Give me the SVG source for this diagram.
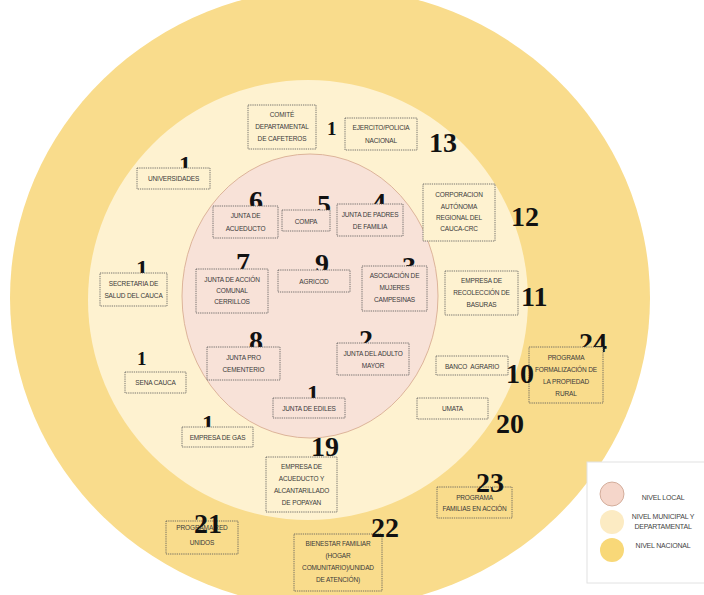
<svg xmlns="http://www.w3.org/2000/svg" width="704" height="595" viewBox="0 0 704 595">
<style>
.box{stroke:#555;stroke-width:0.8;stroke-dasharray:1.3 0.9}
.pk{fill:#F8E2D8}.cr{fill:#FEF2D0}.yl{fill:#F9DC8C}
.lbl{font-family:"Liberation Sans",Arial,sans-serif;font-size:6.5px;fill:#3a3a3a;text-anchor:middle;letter-spacing:-0.15px}
.num{font-family:"Liberation Serif","Times New Roman",serif;font-weight:bold;font-size:28px;fill:#111}
.leg{font-family:"Liberation Sans",Arial,sans-serif;font-size:7px;fill:#444;text-anchor:middle;letter-spacing:-0.2px}
</style>
<rect width="704" height="595" fill="#fff"/>
<g id="levels">
<ellipse cx="330" cy="298" rx="320" ry="310" fill="#F9DC8C"/>
<ellipse cx="308" cy="300" rx="220" ry="220" fill="#FEF2D0"/>
<ellipse cx="310" cy="296" rx="128" ry="142" fill="#F8E2D8" stroke="#DDB49A" stroke-width="1"/>
</g>
<g id="connectors"/>
<g id="n-comite">
<rect class="box cr" x="248" y="105" width="68" height="44"/>
<text class="lbl" x="282" y="117.3">COMITÉ</text>
<text class="lbl" x="282" y="129.3">DEPARTAMENTAL</text>
<text class="lbl" x="282" y="141.3">DE CAFETEROS</text>
<text class="num" x="327" y="135" style="font-size:19px">1</text>
</g>
<g id="n-ejercito">
<rect class="box cr" x="345" y="118" width="72" height="32"/>
<text class="lbl" x="381" y="130.3">EJERCITO/POLICIA</text>
<text class="lbl" x="381" y="143.3">NACIONAL</text>
<text class="num" x="429" y="152">13</text>
</g>
<g id="n-universidades">
<text class="num" x="179" y="172" style="font-size:24px">1</text>
<rect class="box cr" x="137" y="168" width="73" height="21"/>
<text class="lbl" x="173.5" y="181">UNIVERSIDADES</text>
</g>
<g id="n-crc">
<rect class="box cr" x="423" y="184" width="72" height="57"/>
<text class="lbl" x="459" y="197.3">CORPORACION</text>
<text class="lbl" x="459" y="209.3">AUTÓNOMA</text>
<text class="lbl" x="459" y="220.3">REGIONAL DEL</text>
<text class="lbl" x="459" y="231.3">CAUCA-CRC</text>
<text class="num" x="511" y="226">12</text>
</g>
<g id="n-acueducto">
<text class="num" x="249" y="210">6</text>
<rect class="box pk" x="213" y="206" width="65" height="32"/>
<text class="lbl" x="245.5" y="217.5">JUNTA DE</text>
<text class="lbl" x="245.5" y="230.5">ACUEDUCTO</text>
</g>
<g id="n-compa">
<text class="num" x="317" y="214">5</text>
<rect class="box pk" x="282" y="210" width="48" height="21"/>
<text class="lbl" x="306" y="223.5">COMPA</text>
</g>
<g id="n-padres">
<text class="num" x="372" y="212">4</text>
<rect class="box pk" x="337" y="204" width="66" height="32"/>
<text class="lbl" x="370" y="216.5">JUNTA DE PADRES</text>
<text class="lbl" x="370" y="228.5">DE FAMILIA</text>
</g>
<g id="n-accion">
<text class="num" x="236" y="272">7</text>
<rect class="box pk" x="196" y="269" width="72" height="44"/>
<text class="lbl" x="232" y="281.5">JUNTA DE ACCIÓN</text>
<text class="lbl" x="232" y="292.5">COMUNAL</text>
<text class="lbl" x="232" y="303.5">CERRILLOS</text>
</g>
<g id="n-agricod">
<text class="num" x="315" y="273">9</text>
<rect class="box pk" x="278" y="270" width="72" height="22"/>
<text class="lbl" x="314" y="283.5">AGRICOD</text>
</g>
<g id="n-mujeres">
<text class="num" x="402" y="276">3</text>
<rect class="box pk" x="362" y="266" width="65" height="45"/>
<text class="lbl" x="394.5" y="277.5">ASOCIACIÓN DE</text>
<text class="lbl" x="394.5" y="289.5">MUJERES</text>
<text class="lbl" x="394.5" y="301.5">CAMPESINAS</text>
</g>
<g id="n-secretaria">
<text class="num" x="136" y="276" style="font-size:24px">1</text>
<rect class="box cr" x="100" y="273" width="67" height="33"/>
<text class="lbl" x="133.5" y="285.5">SECRETARIA DE</text>
<text class="lbl" x="133.5" y="297.5">SALUD DEL CAUCA</text>
</g>
<g id="n-basuras">
<rect class="box cr" x="445" y="271" width="73" height="44"/>
<text class="lbl" x="481.5" y="282.5">EMPRESA DE</text>
<text class="lbl" x="481.5" y="294.5">RECOLECCIÓN DE</text>
<text class="lbl" x="481.5" y="306.5">BASURAS</text>
<text class="num" x="521" y="306">11</text>
</g>
<g id="n-cementerio">
<text class="num" x="249" y="350">8</text>
<rect class="box pk" x="207" y="347" width="73" height="33"/>
<text class="lbl" x="243.5" y="359.5">JUNTA PRO</text>
<text class="lbl" x="243.5" y="371.5">CEMENTERIO</text>
</g>
<g id="n-adulto">
<text class="num" x="359" y="349">2</text>
<rect class="box pk" x="337" y="343" width="72" height="32"/>
<text class="lbl" x="373" y="355.5">JUNTA DEL ADULTO</text>
<text class="lbl" x="373" y="367.5">MAYOR</text>
</g>
<g id="n-sena">
<text class="num" x="137" y="365" style="font-size:19px">1</text>
<rect class="box cr" x="125" y="372" width="61" height="21"/>
<text class="lbl" x="155.5" y="384.5">SENA CAUCA</text>
</g>
<g id="n-formalizacion">
<text class="num" x="579" y="352">24</text>
<rect class="box yl" x="529" y="347" width="74" height="56"/>
<text class="lbl" x="566" y="359.5">PROGRAMA</text>
<text class="lbl" x="566" y="371.5">FORMALIZACIÓN DE</text>
<text class="lbl" x="566" y="383.5">LA PROPIEDAD</text>
<text class="lbl" x="566" y="395.5">RURAL</text>
</g>
<g id="n-banco">
<rect class="box cr" x="436" y="356" width="72" height="19"/>
<text class="lbl" x="472" y="368.5" xml:space="preserve">BANCO  AGRARIO</text>
<text class="num" x="506" y="383">10</text>
</g>
<g id="n-ediles">
<text class="num" x="307" y="401" style="font-size:24px">1</text>
<rect class="box pk" x="273" y="398" width="72" height="20"/>
<text class="lbl" x="309" y="410.5">JUNTA DE EDILES</text>
</g>
<g id="n-umata">
<rect class="box cr" x="417" y="398" width="71" height="21"/>
<text class="lbl" x="452.5" y="410.5">UMATA</text>
<text class="num" x="496" y="433">20</text>
</g>
<g id="n-gas">
<text class="num" x="202" y="431" style="font-size:24px">1</text>
<rect class="box cr" x="182" y="427" width="71" height="20"/>
<text class="lbl" x="217.5" y="439.5">EMPRESA DE GAS</text>
</g>
<g id="n-acueducto-popayan">
<text class="num" x="311" y="456">19</text>
<rect class="box cr" x="266" y="457" width="71" height="55"/>
<text class="lbl" x="301.5" y="468.5">EMPRESA DE</text>
<text class="lbl" x="301.5" y="480.5">ACUEDUCTO Y</text>
<text class="lbl" x="301.5" y="492.5">ALCANTARILLADO</text>
<text class="lbl" x="301.5" y="504.5">DE POPAYAN</text>
</g>
<g id="n-familias">
<rect class="box yl" x="437" y="487" width="75" height="31"/>
<text class="lbl" x="474.5" y="499.5">PROGRAMA</text>
<text class="lbl" x="474.5" y="510.5">FAMILIAS EN ACCIÓN</text>
<text class="num" x="476" y="492">23</text>
</g>
<g id="n-redunidos">
<rect class="box yl" x="166" y="521" width="72" height="33"/>
<text class="lbl" x="202" y="530.3">PROGRAMA RED</text>
<text class="lbl" x="202" y="545">UNIDOS</text>
<text class="num" x="194" y="533">21</text>
</g>
<g id="n-bienestar">
<rect class="box yl" x="294" y="534" width="88" height="57"/>
<text class="lbl" x="338" y="546.3">BIENESTAR FAMILIAR</text>
<text class="lbl" x="338" y="558.3">(HOGAR</text>
<text class="lbl" x="338" y="570.3">COMUNITARIO)/UNIDAD</text>
<text class="lbl" x="338" y="582.3">DE ATENCIÓN)</text>
<text class="num" x="371" y="537">22</text>
</g>
<g id="legend">
<rect x="587" y="462" width="122" height="121" fill="#fff" stroke="#e2e2e2" stroke-width="1"/>
<circle cx="612" cy="494" r="12" fill="#F5D6CA" stroke="#C9A08C" stroke-width="0.8"/>
<circle cx="612" cy="522" r="12" fill="#FCEBC3"/>
<circle cx="612" cy="550" r="12" fill="#F8D878"/>
<text class="leg" x="663" y="500">NIVEL LOCAL</text>
<text class="leg" x="663" y="519">NIVEL MUNICIPAL Y</text>
<text class="leg" x="663" y="528.5">DEPARTAMENTAL</text>
<text class="leg" x="663" y="547.5">NIVEL NACIONAL</text>
</g>
</svg>
